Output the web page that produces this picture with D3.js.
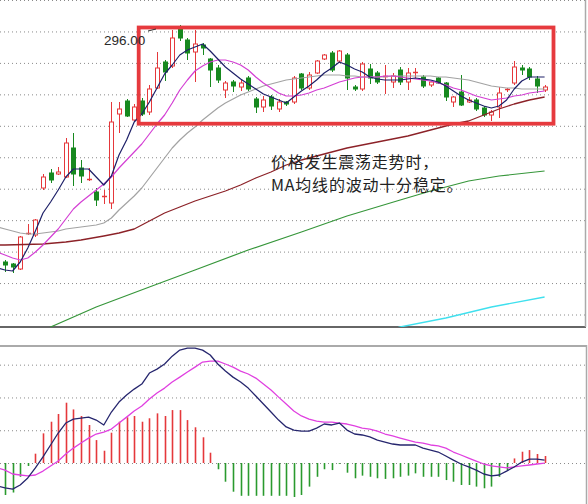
<!DOCTYPE html>
<html><head><meta charset="utf-8">
<script src="https://cdn.jsdelivr.net/npm/d3@7"></script>
<style>html,body{margin:0;padding:0;background:#fff;} svg{display:block}</style>
</head><body>
<svg id="c" width="588" height="504"></svg>
<script>
// ---------- DATA ----------
const openP  = [177.5,176.5,174,191.5,191,214.5,222,221.5,220,234.5,
  224.5,218.5,212.5,210,207,251.5,258,248.5,258,252.5,
  264.5,277.5,275.5,294,288.5,282.5,286,279,274.5,263.5,
  267.5,265,269.5,259,255,260,254,257.5,257.5,271.5,
  264.5,272,279,282,278,281,265,264,274,272,
  270,267.5,273.5,267.5,272,270,266,269.5,267,257.5,
  262.5,257.5,258.5,254.5,251,255,263.5,267,274.5,274,
  269,263.5];
const highP  = [178.5,177,190.5,196.5,199,221.5,224,225,239.5,242,
  228.5,224.5,214.5,213.5,257.5,257.5,259,256.5,259.5,266,
  282.5,278.5,293.5,296,289.5,293.5,287,279.5,276,268,
  268.5,268.5,270.5,260,260.5,261,259,258,270.5,272,
  272.5,278.5,281.5,283,283.5,282,266,277.5,276.5,273,
  276,272,275,274.5,274.5,271,268,270,267.5,260.5,
  271,260,259.5,255.5,253.5,265,264.5,278,276,275,
  270.5,266];
const lowP   = [172.5,172,173.5,191,190,213.5,217,221,219.5,215.5,
  217,218,205.5,206.5,204,242,250,247.5,250.5,251,
  264,268,274.5,288,278.5,267.5,281,265,267,259.5,
  262.5,263,263,252,252.5,253.5,252.5,255.5,256.5,263.5,
  263.5,271.5,278.5,272.5,277,263.5,263,263,266.5,266.5,
  261.5,264.5,266,263.5,269.5,264.5,265,266.5,258,255,
  255.5,257,253,250,248,249.5,262.5,266,271,268.5,
  262,262.5];
const closeP = [176,175,190,192,198.5,220,218.5,222.5,237,221.5,
  220.5,219,208.5,210.5,247.5,254,250.5,255,251.5,264,
  274.5,272.5,289.5,289.5,282,286.5,284.5,273.5,268.5,267,
  265.5,267,264,255,258.5,255.5,257.5,256.5,269.5,264.5,
  271,278,281,273.5,283,269.5,264,276.5,269.5,267.5,
  270.5,270.5,267.5,272,272.5,265.5,267.5,267,260,260,
  256,258.5,254,251,252.5,262,264,275,273.5,270,
  265.5,265];

// moving averages, index -1 .. 71
const lineStart = -1;
const ma5  = [174.5,
  173.5,173,177.5,184.5,193,202,207.5,213.5,220,224,
  224,224,220,216,220.5,231,238.5,247.5,251.5,257.5,
  264.5,271.5,276,281,283.5,285,286.5,283,279,275,
  272,269,266.5,264,261.5,260,258.5,257,260,263,
  265.5,268.5,272,274.5,277.5,276,274,272.5,270,269,
  268.5,268.5,268.5,269,269.5,269,268.5,267.5,265.5,263,
  260.5,258.5,257,255.5,254.5,255.5,258.5,264,268,270,
  270,270];
const ma10 = [182.5,
  181,179.5,178.5,179.5,182.5,186,190,194,199,204,
  207.5,210.5,213.5,216.5,220,224.5,228.5,232.5,236.5,241.5,
  246.5,251,257,263.5,268.5,273,275.5,277.5,278.5,278.5,
  277.5,276,273.5,270,267,264.5,262,260.5,260.5,261,
  262,263.5,264.5,266,267.5,268.5,269.5,270,270,270,
  270.5,270.5,270,269.5,269,268.5,268,267,266,264.5,
  263.5,262,260.5,259.5,258.5,259,259.5,260.5,261,262,
  262.5,263];
const ma20 = [195,
  194,193,192,191.5,191.5,192,192.5,193,194,194.5,
  195,195.5,196,197,199.5,203.5,207,210.5,214.5,219.5,
  224.5,229.5,234.5,238.5,242,245,248.5,251.5,254.5,257,
  259,261,262.5,264,265.5,266.5,267.5,268.5,269,269.5,
  270,270.5,271,271,271,270.5,270.5,270,270,270,
  270,270.5,270.5,270.5,270.5,270.5,270.5,270,270,269.5,
  269,268.5,267.5,266.5,265.5,265,264.5,264.5,264,264,
  264,264];
const ma30Idx = [-1,0,5,8,10,13,15,17,19,21,23,25,27,29,31,33,35,37,39,41,43,45,47,49,51,53,55,57,59,61,63,65,67,69,71];
const ma30    = [186,186,186.5,187.5,188.5,190.5,192,194,198,202,205,208,210.5,213,216,219.5,222.5,226,228.5,230.5,232.5,234.5,236,237.5,239,240.5,242.5,244.5,246.5,248,251,254,256.5,258.5,260];
const ma60Idx = [5,6,12,19,25,32,39,45,52,56,61,65,71];
const ma60    = [143,145,155,165,173.5,183.5,192.5,200.5,208.5,213,218,220.5,223];
const ma120Idx = [51,52,58,64,71];
const ma120    = [144,145,149.5,155,160];

// MACD: histogram index 0..71, lines index -1..71
const macdHist = [-1.95,-1.8,-0.84,-0.18,0.57,1.81,2.52,2.99,3.68,3.27,
  2.87,2.32,1.40,0.75,1.85,2.52,2.79,2.87,2.52,2.73,
  3.03,2.87,3.23,3.23,2.62,2.18,1.57,0.63,-0.38,-1.14,
  -1.75,-2.0,-2.0,-2.0,-2.0,-2.0,-2.0,-2.0,-2.1,-1.95,
  -1.44,-0.84,-0.38,-0.43,-0.05,-0.59,-0.93,-0.77,-0.84,-0.93,
  -0.97,-0.93,-0.84,-0.77,-0.63,-0.84,-0.84,-0.84,-1.04,-1.14,
  -1.34,-1.34,-1.44,-1.54,-1.44,-0.84,-0.43,0.28,0.69,0.79,
  0.55,0.43];
const dif = [-1.40,
  -1.52,-1.59,-1.34,-0.91,-0.30,0.37,1.10,1.83,2.44,2.68,
  2.74,2.80,2.62,2.32,3.11,3.72,4.15,4.51,4.82,5.49,
  5.73,6.04,6.52,6.89,7.01,7.01,6.89,6.59,6.04,5.61,
  5.24,4.94,4.57,4.09,3.60,3.11,2.62,2.20,2.01,1.95,
  1.95,2.13,2.38,2.32,2.44,2.01,1.77,1.71,1.59,1.40,
  1.28,1.16,1.10,1.10,1.10,0.91,0.79,0.67,0.43,0.18,
  -0.06,-0.24,-0.43,-0.67,-0.79,-0.73,-0.49,-0.24,0.06,0.24,
  0.24,0.18];
const dea = [-0.30,
  -0.43,-0.67,-0.73,-0.79,-0.73,-0.49,-0.18,0.12,0.55,0.91,
  1.22,1.52,1.77,1.89,2.07,2.44,2.80,3.17,3.48,3.90,
  4.27,4.57,4.94,5.24,5.55,5.85,6.16,6.22,6.22,6.04,
  5.85,5.61,5.43,5.18,4.82,4.45,4.02,3.60,3.17,2.87,
  2.68,2.56,2.50,2.50,2.44,2.38,2.26,2.13,2.07,1.95,
  1.77,1.65,1.52,1.40,1.28,1.22,1.10,1.04,0.91,0.67,
  0.49,0.30,0.12,-0.06,-0.18,-0.24,-0.30,-0.24,-0.18,-0.12,
  -0.06,0.0];

const maxLabel = "296.00";
const noteLines = ["价格发生震荡走势时，", "MA均线的波动十分稳定。"];
const macdGrid = [0, 2, 4, 6];

// ---------- CHART ----------
const RED = "#e5383b", GREEN = "#17891f";
const svg = d3.select("#c");
const x = d3.scaleLinear().domain([0, 71]).range([5, 544.6]);
const y = d3.scaleLinear().domain([145, 308.5]).range([327, 0]);
const ym = d3.scaleLinear().domain([-2.5, 7.2]).range([504, 345]);

const defs = svg.append("defs");
defs.append("clipPath").attr("id","clipMain").append("rect").attr("x",0).attr("y",0).attr("width",585).attr("height",327);
defs.append("clipPath").attr("id","clipMacd").append("rect").attr("x",0).attr("y",347).attr("width",586).attr("height",150);

// main grid
const mainGrid = d3.range(0, 11).map(k => 308.5 - k * 15.725);
svg.append("g").selectAll("line").data(mainGrid).join("line")
  .attr("x1",0).attr("x2",585).attr("y1",d=>y(d)+0.5).attr("y2",d=>y(d)+0.5)
  .attr("stroke","#8a8a8a").attr("stroke-width",1).attr("stroke-dasharray","1,3");

// macd grid
svg.append("g").selectAll("line").data(macdGrid).join("line")
  .attr("x1",0).attr("x2",586).attr("y1",d=>ym(d)+0.5).attr("y2",d=>ym(d)+0.5)
  .attr("stroke","#8a8a8a").attr("stroke-width",1).attr("stroke-dasharray","1,3");

// borders
svg.append("line").attr("x1",0).attr("x2",586).attr("y1",327).attr("y2",327).attr("stroke","#666").attr("stroke-width",2);
svg.append("line").attr("x1",585.5).attr("x2",585.5).attr("y1",0).attr("y2",327).attr("stroke","#aaa").attr("stroke-width",1.5);
svg.append("line").attr("x1",0).attr("x2",587).attr("y1",346).attr("y2",346).attr("stroke","#aaa").attr("stroke-width",2);
svg.append("line").attr("x1",586.5).attr("x2",586.5).attr("y1",345).attr("y2",504).attr("stroke","#aaa").attr("stroke-width",1.5);

// candles
const gMain = svg.append("g").attr("clip-path","url(#clipMain)");
const idx = d3.range(openP.length);
idx.forEach(i => {
  const up = closeP[i] >= openP[i];
  const col = up ? RED : GREEN;
  const cx = Math.round(x(i)) + 0.5;
  gMain.append("line").attr("x1",cx).attr("x2",cx).attr("y1",y(highP[i])).attr("y2",y(lowP[i]))
    .attr("stroke",col).attr("stroke-width",1);
  const top = y(Math.max(openP[i], closeP[i])), bot = y(Math.min(openP[i], closeP[i]));
  if (bot - top < 1.5) {
    gMain.append("line").attr("x1",cx-2.5).attr("x2",cx+2.5).attr("y1",(top+bot)/2).attr("y2",(top+bot)/2)
      .attr("stroke",col).attr("stroke-width",1.5);
  } else {
    gMain.append("rect").attr("x",cx-2).attr("y",top).attr("width",4).attr("height",bot-top)
      .attr("fill", up ? "#fff" : GREEN).attr("stroke",col).attr("stroke-width",1);
  }
});

// MA lines
function drawLine(g, idxs, vals, ys, color, w) {
  const pts = idxs.map((k, j) => [x(k), ys(vals[j])]);
  g.append("path").attr("d", d3.line()(pts)).attr("fill","none").attr("stroke",color).attr("stroke-width",w)
    .attr("stroke-linejoin","round");
}
const denseIdx = d3.range(lineStart, 72);
drawLine(gMain, ma120Idx, ma120, y, "#3fe0ee", 1.3);
drawLine(gMain, ma60Idx, ma60, y, "#36963a", 1.2);
drawLine(gMain, ma30Idx, ma30, y, "#8c2228", 1.3);
drawLine(gMain, denseIdx, ma20, y, "#a3a3a3", 1.2);
drawLine(gMain, denseIdx, ma10, y, "#d43fd4", 1.2);
drawLine(gMain, denseIdx, ma5, y, "#1e2068", 1.2);

// red box
svg.append("rect").attr("x",138.7).attr("y",27.5).attr("width",414.8).attr("height",96.2)
  .attr("fill","none").attr("stroke","#e63a3e").attr("stroke-width",3.8);

// max label
svg.append("text").attr("x",104).attr("y",45).text(maxLabel)
  .attr("font-family","Liberation Sans, Arial, sans-serif").attr("font-size","13.5px").attr("fill","#2a2a2a");
svg.append("line").attr("x1",148).attr("x2",156).attr("y1",31).attr("y2",29).attr("stroke","#333").attr("stroke-width",1);

// note text
svg.append("g").selectAll("text").data(noteLines).join("text")
  .attr("x",271).attr("y",(d,i)=>167.5 + i*23.4).text(d=>d)
  .attr("font-family","Noto Sans CJK SC, sans-serif").attr("font-size","16px")
  .attr("letter-spacing","0.8px").attr("fill","#222");

// MACD
const gM = svg.append("g").attr("clip-path","url(#clipMacd)");
gM.selectAll("line.h").data(macdHist).join("line").attr("class","h")
  .attr("x1",(d,i)=>Math.round(x(i))+0.5).attr("x2",(d,i)=>Math.round(x(i))+0.5)
  .attr("y1",ym(0)).attr("y2",d=>ym(d))
  .attr("stroke",d=>d>=0?RED:"#2a9a2e").attr("stroke-width",1.6);
drawLine(gM, denseIdx, dea, ym, "#e040e0", 1.3);
drawLine(gM, denseIdx, dif, ym, "#26266e", 1.3);
</script>
</body></html>
